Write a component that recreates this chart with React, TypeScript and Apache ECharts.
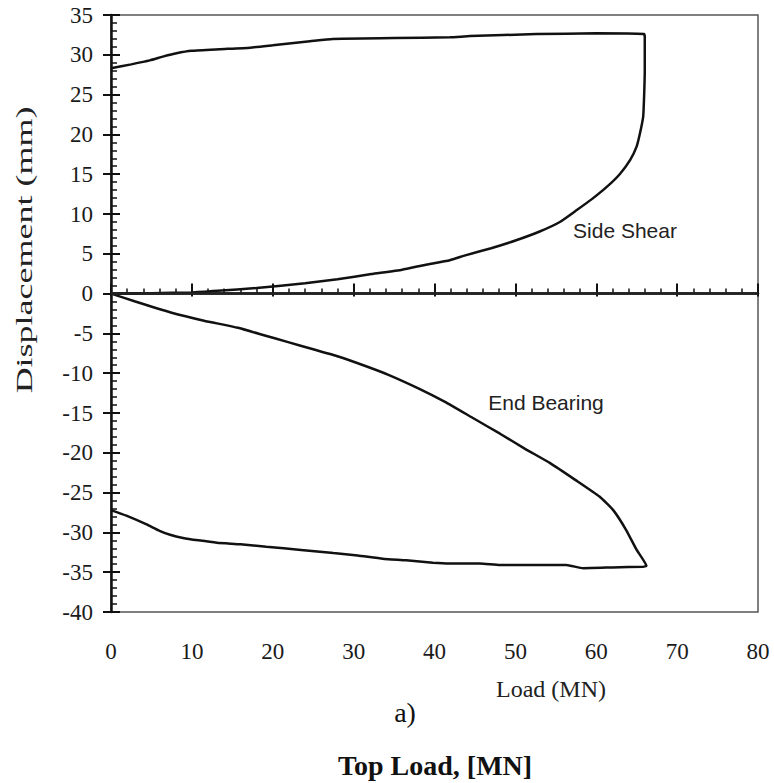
import React, { useEffect, useRef } from "react";
import * as echarts from "echarts";

const xTicks = [0, 10, 20, 30, 40, 50, 60, 70, 80];
const yTicks = [-40, -35, -30, -25, -20, -15, -10, -5, 0, 5, 10, 15, 20, 25, 30, 35];

// Side shear loop: loading then unloading
const sideShearLoad = [
  0, 5, 10, 13.2, 18, 24, 28, 32.2, 36, 38.8, 41.9, 43.8, 47, 50.1, 53, 55.5, 57.6, 59.5, 61.3, 62.9,
  64.2, 65.0, 65.4, 65.8, 65.9, 66.0, 66.0, 65.9,
  60, 52.6, 44.4, 41.9, 35, 27.4, 24.6, 20, 17.2, 13.5, 10, 8.1, 6.5, 4.8, 2.5, 0,
];
const sideShearDisp = [
  0, 0.05, 0.15, 0.35, 0.7, 1.3, 1.8, 2.45, 3.0, 3.6, 4.2, 4.8, 5.7, 6.7, 7.8, 9.0, 10.5, 11.9, 13.4, 15.0,
  16.8, 18.5, 20.1, 22.2, 24.3, 28, 32.2, 32.6,
  32.7, 32.6, 32.35, 32.2, 32.1, 32.0, 31.7, 31.2, 30.9, 30.7, 30.5, 30.2, 29.8, 29.3, 28.8, 28.3,
];

// End bearing loop: loading then unloading
const endBearingLoad = [
  0, 3, 7.5, 11.5, 15.7, 18.8, 21.9, 25, 28.1, 31.2, 34.3, 38, 41.3, 44.7, 48.1, 51.2, 54.3, 57.4, 60.4,
  62.1, 63.7, 65.0, 66.2,
  65.8, 62, 58.4, 56.3, 52, 48.1, 45.6, 41.9, 39.8, 36.5, 33.6, 30.5, 27.5, 23.5, 19.2, 16, 13.1, 10.8,
  8.9, 7.3, 6.0, 4.4, 1.9, 0,
];
const endBearingDisp = [
  0, -1.0, -2.4, -3.4, -4.3, -5.2, -6.1, -7.0, -7.9, -9.0, -10.2, -11.9, -13.6, -15.6, -17.6, -19.5, -21.3,
  -23.4, -25.5, -27.2, -29.7, -32.2, -34.2,
  -34.3, -34.4, -34.5, -34.1, -34.1, -34.1, -33.9, -33.9, -33.8, -33.5, -33.3, -32.9, -32.6, -32.2, -31.8,
  -31.5, -31.3, -31.0, -30.7, -30.3, -29.8, -29.0, -27.9, -27.2,
];

const seriesNames = ["Side Shear", "End Bearing"];
const xAxisTitle = "Load (MN)";
const yAxisTitle = "Displacement (mm)";
const panelLabel = "a)";
const bottomTitle = "Top Load, [MN]";

const serif = "'Liberation Serif', 'Times New Roman', serif";
const sans = "'Liberation Sans', Arial, sans-serif";

export default function App() {
  const ref = useRef<HTMLDivElement>(null);
  useEffect(() => {
    if (!ref.current) return;
    const chart = echarts.init(ref.current, undefined, { renderer: "svg" });
    const pair = (xs: number[], ys: number[]) => xs.map((x, i) => [x, ys[i]]);
    const baseX = {
      type: "value" as const,
      min: xTicks[0],
      max: xTicks[xTicks.length - 1],
      interval: 10,
      position: "bottom" as const,
      splitLine: { show: false },
    };
    const baseY = {
      type: "value" as const,
      min: yTicks[0],
      max: yTicks[yTicks.length - 1],
      interval: 5,
      position: "left" as const,
      splitLine: { show: false },
    };
    chart.setOption({
      animation: false,
      backgroundColor: "#ffffff",
      grid: {
        left: 111,
        right: 16,
        top: 15,
        bottom: 171,
        show: true,
        borderColor: "#555",
        borderWidth: 1.5,
        containLabel: false,
      },
      xAxis: [
        {
          ...baseX,
          axisLine: { show: true, lineStyle: { color: "#111", width: 2.5 } },
          axisTick: { show: true, inside: true, length: 10, lineStyle: { color: "#111", width: 2 } },
          minorTick: { show: true, splitNumber: 5, length: 5, lineStyle: { color: "#111", width: 1.5 } },
          axisLabel: { show: true, margin: 28, fontSize: 23, fontFamily: serif, color: "#1a1a1a" },
        },
        {
          ...baseX,
          axisLine: { show: false },
          axisTick: { show: true, inside: false, length: 3, lineStyle: { color: "#111", width: 2 } },
          axisLabel: { show: false },
        },
      ],
      yAxis: [
        {
          ...baseY,
          axisLine: { show: true, lineStyle: { color: "#111", width: 2.5 } },
          axisTick: { show: true, inside: true, length: 9, lineStyle: { color: "#111", width: 2 } },
          minorTick: { show: true, splitNumber: 5, length: 6, lineStyle: { color: "#111", width: 1.5 } },
          axisLabel: { show: true, margin: 18, fontSize: 23, fontFamily: serif, color: "#1a1a1a" },
        },
        {
          ...baseY,
          axisLine: { show: false },
          axisTick: { show: true, inside: false, length: 8, lineStyle: { color: "#111", width: 2 } },
          axisLabel: { show: false },
        },
      ],
      series: [
        {
          name: seriesNames[0],
          type: "line",
          xAxisIndex: 0,
          yAxisIndex: 0,
          data: pair(sideShearLoad, sideShearDisp),
          showSymbol: false,
          smooth: 0.15,
          lineStyle: { color: "#111", width: 2.5 },
          markLine: {
            silent: true,
            symbol: "none",
            label: { show: false },
            lineStyle: { color: "#222", width: 2.5, type: "solid" },
            data: [{ yAxis: 0 }],
          },
        },
        {
          name: seriesNames[1],
          type: "line",
          xAxisIndex: 0,
          yAxisIndex: 0,
          data: pair(endBearingLoad, endBearingDisp),
          showSymbol: false,
          smooth: 0.15,
          lineStyle: { color: "#111", width: 2.5 },
        },
      ],
      graphic: [
        {
          type: "text",
          x: 625,
          y: 230,
          style: { text: seriesNames[0], font: `21px ${sans}`, fill: "#222", textAlign: "center", textVerticalAlign: "middle" },
        },
        {
          type: "text",
          x: 546,
          y: 402,
          style: { text: seriesNames[1], font: `21px ${sans}`, fill: "#222", textAlign: "center", textVerticalAlign: "middle" },
        },
        {
          type: "text",
          x: 551,
          y: 689,
          style: { text: xAxisTitle, font: `24px ${serif}`, fill: "#222", textAlign: "center", textVerticalAlign: "middle" },
        },
        {
          type: "text",
          x: 24,
          y: 250,
          rotation: Math.PI / 2,
          scaleX: 1.5,
          style: { text: yAxisTitle, font: `24px ${serif}`, fill: "#222", textAlign: "center", textVerticalAlign: "middle" },
        },
        {
          type: "text",
          x: 405,
          y: 712,
          style: { text: panelLabel, font: `28px ${serif}`, fill: "#111", textAlign: "center", textVerticalAlign: "middle" },
        },
        {
          type: "text",
          x: 435,
          y: 765,
          style: { text: bottomTitle, font: `bold 28px ${serif}`, fill: "#111", textAlign: "center", textVerticalAlign: "middle" },
        },
      ],
    });
    return () => chart.dispose();
  }, []);
  return <div ref={ref} style={{ position: "fixed", left: 0, top: 0, width: 774, height: 783 }} />;
}
